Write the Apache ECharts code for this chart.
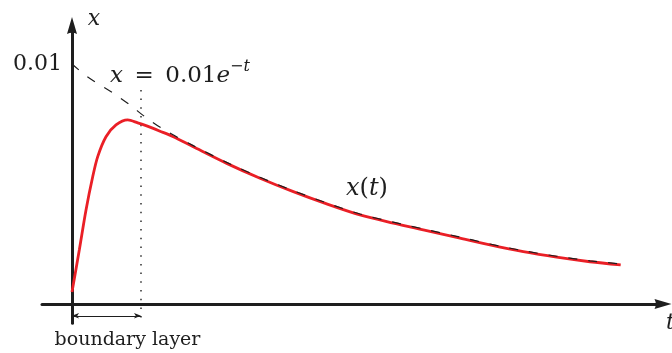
<!DOCTYPE html>
<html>
<head>
<meta charset="utf-8">
<script src="https://cdn.jsdelivr.net/npm/echarts@6/dist/echarts.min.js"></script>
<style>
  html, body { margin: 0; padding: 0; background: #ffffff; }
  #chart { width: 672px; height: 353px; }
</style>
</head>
<body>
<div id="chart"></div>
<script>
// Solution x(t): fast rise through the boundary layer, then decay
const solutionT = [0, 0.0243, 0.0467, 0.069, 0.0857, 0.1133, 0.1467, 0.1857, 0.219, 0.2467,
  0.2933, 0.3377, 0.4043, 0.5157, 0.6267, 0.7377, 0.849, 0.96, 1.071, 1.171,
  1.2823, 1.3933, 1.5043, 1.6157, 1.7267, 1.829];
const solutionX = [0.0005, 0.00225, 0.00392, 0.0053, 0.00614, 0.00697, 0.00746, 0.00767, 0.00755, 0.00743,
  0.0072, 0.00697, 0.00655, 0.00586, 0.00524, 0.00468, 0.00417, 0.00371, 0.00337, 0.00309,
  0.00278, 0.00246, 0.00218, 0.00195, 0.00176, 0.00163];

// Outer solution x = 0.01 e^{-t}
const outerT = [0, 0.051, 0.1377, 0.1933, 0.2433, 0.3043, 0.4043, 0.5157, 0.6267, 0.7377,
  0.849, 0.96, 1.071, 1.171, 1.2823, 1.3933, 1.5043, 1.6157, 1.7267, 1.829];
const outerX = [0.01, 0.00947, 0.00878, 0.00829, 0.0078, 0.00728, 0.0066, 0.0059, 0.00528, 0.00472,
  0.00421, 0.00375, 0.00341, 0.00313, 0.00282, 0.0025, 0.00222, 0.00199, 0.0018, 0.00167];

// Edge of the boundary layer and its guide marks
const layerEdgeT = 0.23;
const layerGuideX = [0.00892, -0.0007];
const layerArrowX = -0.00049;

// Axis extents and the single labelled value on the x axis
const rangeT = [-0.1, 1.97];
const rangeX = [-0.0008, 0.0116];
const xTickValues = [0.01];

const ink = '#1e1e1e';
const serif = '"DejaVu Serif", serif';
const arrowHead = 'path://M5,0 L10,17 Q5,14.5 0,17 Z';

const zip = (a, b) => a.map((v, i) => [v, b[i]]);

const chart = echarts.init(document.getElementById('chart'), null, { renderer: 'canvas' });

chart.setOption({
  animation: false,
  backgroundColor: '#ffffff',
  grid: {
    left: 42, right: 9, top: 25.6, bottom: 29.8,
    containLabel: false,
    outerBoundsMode: 'none'
  },
  xAxis: {
    type: 'value',
    min: rangeT[0], max: rangeT[1],
    axisLine: {
      show: true, onZero: true,
      symbol: ['none', arrowHead], symbolSize: [10, 17],
      lineStyle: { color: ink, width: 3 }
    },
    axisTick: { show: false },
    axisLabel: { show: false },
    splitLine: { show: false }
  },
  yAxis: {
    type: 'value',
    min: rangeX[0], max: rangeX[1],
    axisLine: {
      show: true, onZero: true,
      symbol: ['none', arrowHead], symbolSize: [10, 17],
      lineStyle: { color: ink, width: 3 }
    },
    axisTick: { show: false },
    axisLabel: {
      show: true,
      customValues: xTickValues,
      formatter: (v) => String(v),
      fontFamily: serif, fontSize: 22, color: ink, margin: -20
    },
    splitLine: { show: false }
  },
  series: [
    {
      name: 'x(t)',
      type: 'line',
      data: zip(solutionT, solutionX),
      showSymbol: false,
      smooth: 0.3,
      lineStyle: { color: '#ea1f26', width: 2.8 },
      z: 3
    },
    {
      name: 'outer',
      type: 'line',
      data: zip(outerT, outerX),
      showSymbol: false,
      smooth: 0.3,
      lineStyle: { color: ink, width: 1.2, type: [9, 11] },
      z: 4
    },
    {
      name: 'layer edge',
      type: 'line',
      data: layerGuideX.map((x) => [layerEdgeT, x]),
      showSymbol: false,
      lineStyle: { color: ink, width: 1.4, type: [1.5, 7.2] },
      z: 2,
      markLine: {
        silent: true,
        symbol: ['arrow', 'arrow'],
        symbolSize: [4, 7],
        label: { show: false },
        lineStyle: { color: ink, width: 1, type: 'solid' },
        data: [[{ coord: [0, layerArrowX] }, { coord: [layerEdgeT, layerArrowX] }]]
      }
    }
  ],
  graphic: [
    {
      type: 'text', x: 94, y: 19,
      style: {
        text: 'x', font: 'italic 22px ' + serif, fill: ink,
        align: 'center', verticalAlign: 'middle', textAlign: 'center', textVerticalAlign: 'middle'
      }
    },
    {
      type: 'text', x: 666, y: 323,
      style: {
        text: 't', font: 'italic 22px ' + serif, fill: ink,
        align: 'left', verticalAlign: 'middle', textAlign: 'left', textVerticalAlign: 'middle'
      }
    },
    {
      type: 'text', x: 110, y: 59,
      style: {
        text: '{it|x}\u2002=\u20020.01{it|e}{sr|\u2212}{si|t}',
        font: '23px ' + serif, fill: ink, lineHeight: 34,
        align: 'left', verticalAlign: 'top', textAlign: 'left', textVerticalAlign: 'top',
        rich: {
          it: { fontFamily: serif, fontStyle: 'italic', fontSize: 23, lineHeight: 34, fill: ink },
          sr: { fontFamily: serif, fontSize: 16, lineHeight: 15, verticalAlign: 'top', fill: ink },
          si: { fontFamily: serif, fontStyle: 'italic', fontSize: 16, lineHeight: 15, verticalAlign: 'top', fill: ink }
        }
      }
    },
    {
      type: 'text', x: 346, y: 189,
      style: {
        text: '{it|x}({it|t})',
        font: '24px ' + serif, fill: ink,
        align: 'left', verticalAlign: 'middle', textAlign: 'left', textVerticalAlign: 'middle',
        rich: {
          it: { fontFamily: serif, fontStyle: 'italic', fontSize: 24, fill: ink }
        }
      }
    },
    {
      type: 'text', x: 127.5, y: 340,
      style: {
        text: 'boundary layer', font: '19px ' + serif, fill: ink,
        align: 'center', verticalAlign: 'middle', textAlign: 'center', textVerticalAlign: 'middle'
      }
    }
  ]
});
</script>
</body>
</html>
